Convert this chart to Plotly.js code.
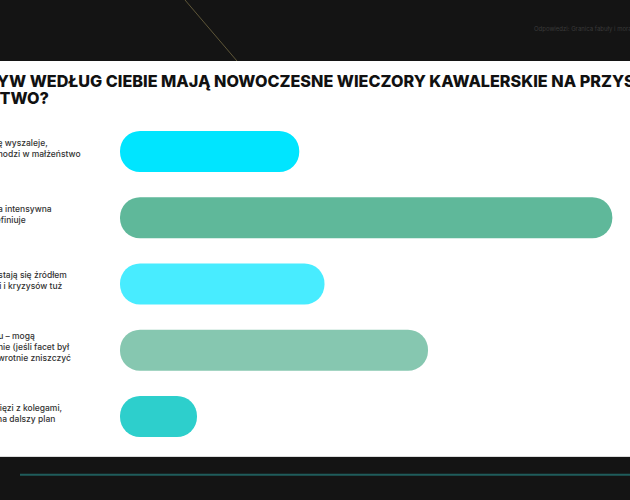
<!DOCTYPE html>
<html>
<head>
<meta charset="utf-8">
<script src="https://cdn.plot.ly/plotly-3.0.1.min.js"></script>
<style>
html,body{margin:0;padding:0;background:#141414;}
#chart{width:630px;height:500px;}
</style>
</head>
<body>
<div id="chart"></div>
<script>
// ---- data ----
const categories = [
  "Pozytywny – facet się wyszaleje,<br>a więc spokojniej wchodzi w małżeństwo",
  "Neutralny: tylko jedna intensywna<br>noc, która nic nie zdefiniuje",
  "Negatywny – często stają się źródłem<br>nieporozumień, kłótni i kryzysów tuż",
  "Zależy, i od przebiegu – mogą<br>mocno osłabić zaufanie (jeśli facet był<br>nielojalny) lub bezpowrotnie zniszczyć",
  "Wzmacniają raczej więzi z kolegami,<br>a partnerka schodzi na dalszy plan"
];
const values = [14.2, 39.0, 16.2, 24.4, 6.1];
const barColors = ["#00E5FF", "#5FB89A", "#48ECFF", "#86C7B0", "#2DCFCC"];
const titleLines = ["JAKI WPŁYW WEDŁUG CIEBIE MAJĄ NOWOCZESNE WIECZORY KAWALERSKIE NA PRZYSZŁE", "MAŁŻEŃSTWO?"];
const headerNote = "Odpowiedzi: Granica fabuły i moralności";

// ---- layout helpers (page is 630x500, plot area = white panel 61..456) ----
const W = 630, PANEL_TOP = 61, PANEL_BOT = 456, PANEL_H = PANEL_BOT - PANEL_TOP;
const px = x => x / W;
const py = y => (PANEL_BOT - y) / PANEL_H;

const X_LEFT = 120, X_MAX = 40.4;
const BARS_TOP = 118.4, BARS_BOT = 449.6, BARGAP = 0.38;

// explicit base => both ends of each bar get the rounded corners (pill bars)
const barTrace = {
  type: "bar", orientation: "h",
  y: categories,
  base: values.map(() => 0),
  x: values,
  marker: {color: barColors, cornerradius: "50%", line: {width: 0}},
  hoverinfo: "x"
};

const annotations = [];
titleLines.forEach((t, i) => {
  annotations.push({
    xref: "paper", yref: "paper", x: px(-84), y: py(80.5 + i * 17),
    xanchor: "left", yanchor: "middle", showarrow: false, align: "left",
    text: t, font: {family: "Inter", size: 16.2, weight: 800, color: "#111111"}
  });
});
annotations.push({
  xref: "paper", yref: "paper", x: px(532), y: py(29),
  xanchor: "left", yanchor: "middle", showarrow: false,
  text: headerNote, font: {family: "Inter", size: 6, color: "#3a3a3a"}
});
categories.forEach(c => {
  annotations.push({
    xref: "paper", yref: "y", x: px(-88), y: c,
    xanchor: "left", yanchor: "middle", yshift: 3, showarrow: false, align: "left",
    text: c, font: {family: "Inter", size: 8.5, weight: 500, color: "#333333"}
  });
});

const shapes = [
  {type: "rect", xref: "paper", yref: "paper", x0: 0, x1: 1, y0: 0, y1: 1,
   fillcolor: "#ffffff", line: {width: 0}, layer: "below"},
  {type: "line", xref: "paper", yref: "paper", x0: 0, x1: 1, y0: py(456.5), y1: py(456.5),
   line: {color: "#dcdcdc", width: 1}, layer: "below"},
  {type: "line", xref: "paper", yref: "paper", x0: px(185), x1: px(237), y0: py(0), y1: py(61),
   line: {color: "rgba(120,110,70,0.75)", width: 1}, layer: "below"},
  {type: "line", xref: "paper", yref: "paper", x0: px(20), x1: 1, y0: py(474.7), y1: py(474.7),
   line: {color: "#1f5c5b", width: 2}, layer: "below"}
];

const layout = {
  width: 630, height: 500,
  margin: {l: 0, r: 0, t: PANEL_TOP, b: 500 - PANEL_BOT, pad: 0},
  paper_bgcolor: "#141414", plot_bgcolor: "#ffffff",
  barmode: "overlay", bargap: BARGAP, showlegend: false,
  xaxis: {domain: [px(X_LEFT), 1], range: [0, X_MAX], autorange: false, visible: false, fixedrange: true},
  yaxis: {domain: [py(BARS_BOT), py(BARS_TOP)], range: [categories.length - 0.5, -0.5], autorange: false,
          visible: false, fixedrange: true, type: "category",
          categoryorder: "array", categoryarray: categories},
  annotations: annotations,
  shapes: shapes
};

Plotly.newPlot("chart", [barTrace], layout, {displayModeBar: false, staticPlot: true});
</script>
</body>
</html>
